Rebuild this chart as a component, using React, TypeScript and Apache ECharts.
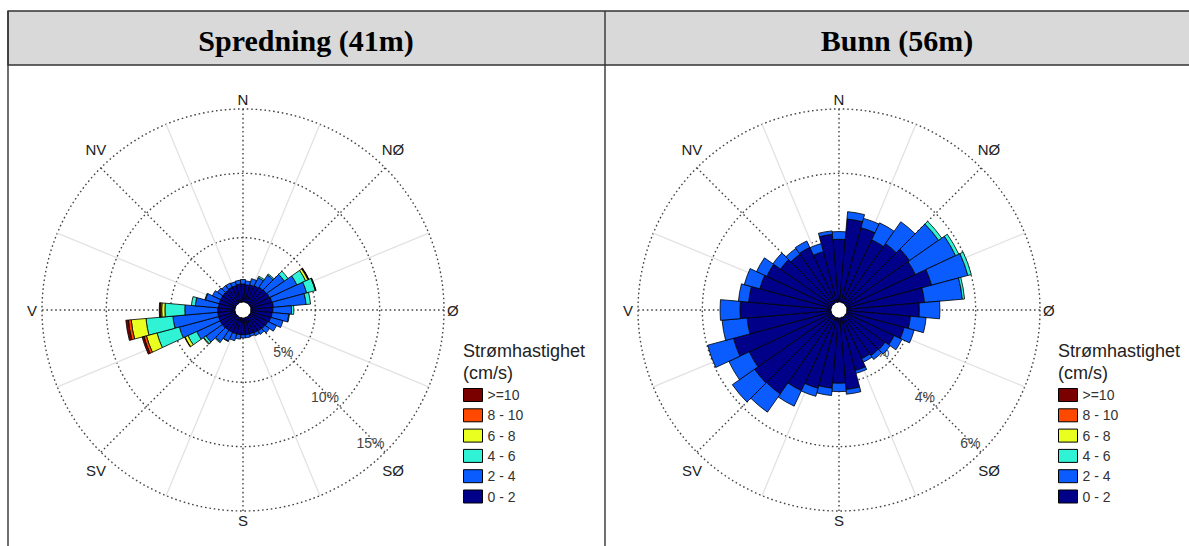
import React, { useEffect, useRef } from 'react';
import * as echarts from 'echarts';

const directions = ['0','10','20','30','40','50','60','70','80','90','100','110','120','130','140','150','160','170','180','190','200','210','220','230','240','250','260','270','280','290','300','310','320','330','340','350'];
const compassNames = ['N', 'NØ', 'Ø', 'SØ', 'S', 'SV', 'V', 'NV'];
const speedBins = ['0 - 2', '2 - 4', '4 - 6', '6 - 8', '8 - 10', '>=10'];
const legendOrder = ['>=10', '8 - 10', '6 - 8', '4 - 6', '2 - 4', '0 - 2'];
const binColors = ['#000088', '#0a5cff', '#30f2d4', '#e8ff20', '#ff4800', '#7a0000'];

// Spredning (41m) — percent of time per direction & speed bin
const left0_2 = [1.4,1.35,1.4,1.45,1.55,1.6,1.65,1.7,1.75,1.7,1.65,1.6,1.5,1.45,1.4,1.35,1.3,1.3,1.3,1.3,1.3,1.3,1.3,1.35,1.35,1.35,1.35,1.35,1.3,1.3,1.3,1.3,1.3,1.35,1.35,1.4];
const left2_4 = [0.35,0.3,0.5,0.7,1.15,1.7,2.35,2.8,2.55,1.45,1.3,1.0,0.75,0.45,0.3,0.25,0.2,0.25,0.25,0.35,0.55,0.75,1.1,1.55,2.0,3.15,3.5,2.55,1.8,1.1,0.7,0.5,0.4,0.35,0.3,0.3];
const left4_6 = [0,0,0,0.12,0.1,0.35,0.75,0.7,0.35,0.18,0.05,0,0,0,0,0,0,0,0,0,0,0.03,0.08,0.2,0.75,1.8,2.1,1.55,0.3,0.05,0,0,0,0,0,0];
const left6_8 = [0,0,0,0,0,0,0.2,0.03,0,0,0,0,0,0,0,0,0,0,0,0,0,0,0,0.05,0.25,0.85,1.15,0.25,0,0,0,0,0,0,0,0];
const left8_10 = [0,0,0,0,0,0,0.05,0,0,0,0,0,0,0,0,0,0,0,0,0,0,0,0,0,0.04,0.2,0.22,0.12,0,0,0,0,0,0,0,0];
const left10 = [0,0,0,0,0,0,0.03,0.03,0,0,0,0,0,0,0,0,0,0,0,0,0,0,0,0,0,0.15,0.2,0.07,0,0,0,0,0,0,0,0];

// Bunn (56m)
const right0_2 = [1.95,2.59,2.4,2.16,2.27,2.43,2.37,2.73,2.42,2.25,1.98,1.85,1.64,1.5,1.48,1.42,1.7,2.23,2.03,2.19,2.27,2.52,2.94,2.96,2.83,3.15,2.62,2.83,2.57,2.3,2.23,1.97,1.87,1.9,1.63,2.11];
const right2_4 = [0.24,0.23,0.3,0.58,0.83,1.1,1.38,1.17,1.18,0.64,0.49,0.32,0.27,0.19,0.15,0.12,0.09,0.15,0.26,0.23,0.26,0.53,0.69,0.84,0.7,0.83,0.78,0.62,0.32,0.5,0.35,0.29,0.22,0.22,0.26,0.11];
const right4_6 = [0,0,0,0,0,0.12,0.11,0.11,0.07,0,0,0,0,0,0,0,0,0,0,0,0,0,0,0,0,0,0,0,0,0,0,0,0,0,0,0];
const right6_8 = [0,0,0,0,0,0,0,0,0,0,0,0,0,0,0,0,0,0,0,0,0,0,0,0,0,0,0,0,0,0,0,0,0,0,0,0];
const right8_10 = [0,0,0,0,0,0,0,0,0,0,0,0,0,0,0,0,0,0,0,0,0,0,0,0,0,0,0,0,0,0,0,0,0,0,0,0];
const right10 = [0,0,0,0,0,0,0,0,0,0,0,0,0,0,0,0,0,0,0,0,0,0,0,0,0,0,0,0,0,0,0,0,0,0,0,0];

const leftMax = 15;
const leftStep = 5;
const rightMax = 6;
const rightStep = 2;

const leftSeries = [left0_2, left2_4, left4_6, left6_8, left8_10, left10];
const rightSeries = [right0_2, right2_4, right4_6, right6_8, right8_10, right10];

const SANS = "'Liberation Sans', Arial, sans-serif";
const SERIF = "'Liberation Serif', 'Times New Roman', serif";
const DOT = [1.6, 2.8];

const baseText = { fontSize: 15, color: '#222', fontFamily: SANS };
const compassRich = {
  c: { ...baseText },
  h: { ...baseText, padding: [0, 3, 0, 1] },
  e: { ...baseText, width: 13, align: 'center', lineHeight: 33 },
  w: { ...baseText, width: 7, align: 'center', lineHeight: 33 },
};

function compassLabel(v: number) {
  const idx = Math.round((135 + v) / 45) % 8;
  const name = compassNames[idx];
  const key = idx === 1 || idx === 3 ? 'e' : idx === 5 || idx === 7 ? 'w' : idx === 2 || idx === 6 ? 'h' : 'c';
  return `{${key}|${name}}`;
}

function buildChart(center: number[], max: number, step: number, stackName: string, values: number[][], polarBase: number) {
  const polars = [0, 1, 2].map(() => ({ center, radius: [8, 201] }));
  const angleAxes = [
    {
      polarIndex: polarBase,
      type: 'value', min: 0, max: 360, interval: 45, startAngle: -45, clockwise: true,
      axisLine: { show: false }, axisTick: { show: false },
      axisLabel: {
        show: true, margin: 2, color: '#222', fontSize: 15, fontFamily: SANS,
        formatter: compassLabel, rich: compassRich,
      },
      splitLine: { show: true, lineStyle: { color: '#444', width: 1.4, type: DOT } },
    },
    {
      polarIndex: polarBase + 1,
      type: 'value', min: 0, max: 360, interval: 45, startAngle: 67.5, clockwise: true,
      axisLine: { show: false }, axisTick: { show: false }, axisLabel: { show: false },
      splitLine: { show: true, lineStyle: { color: '#e2e2e2', width: 1.3, type: 'solid' } },
    },
    {
      polarIndex: polarBase + 2,
      type: 'category', data: directions, startAngle: 95, clockwise: true,
      axisLine: { show: false }, axisTick: { show: false }, axisLabel: { show: false },
      splitLine: { show: false },
    },
  ];
  const radiusAxes = [
    {
      polarIndex: polarBase, type: 'value', min: 0, max, interval: step,
      axisLine: { show: false }, axisTick: { show: false },
      axisLabel: {
        show: true, margin: 2, color: '#444', fontSize: 14, fontFamily: SANS,
        align: 'right', verticalAlign: 'bottom', padding: [0, 2, 1, 0],
        formatter: (v: number) => (v === 0 ? '' : v + '%'),
      },
      splitLine: { show: true, lineStyle: { color: '#444', width: 1.4, type: DOT } },
    },
    {
      polarIndex: polarBase + 1, type: 'value', min: 0, max, interval: step,
      axisLine: { show: false }, axisTick: { show: false }, axisLabel: { show: false }, splitLine: { show: false },
    },
    {
      polarIndex: polarBase + 2, type: 'value', min: 0, max, interval: step,
      axisLine: { show: false }, axisTick: { show: false }, axisLabel: { show: false }, splitLine: { show: false },
    },
  ];
  const series = speedBins.map((name, i) => ({
    type: 'bar', name, coordinateSystem: 'polar', polarIndex: polarBase + 2,
    stack: stackName, barCategoryGap: '0%', silent: true,
    data: values[i].map((v) => (v > 0 ? v : null)),
    itemStyle: { color: binColors[i], borderColor: '#000', borderWidth: 0.8 },
  }));
  return { polars, angleAxes, radiusAxes, series };
}

export default function App() {
  const ref = useRef<HTMLDivElement>(null);
  useEffect(() => {
    if (!ref.current) return;
    const chart = echarts.init(ref.current, undefined, { renderer: 'svg' });
    const L = buildChart([243, 310], leftMax, leftStep, 'left', leftSeries, 0);
    const R = buildChart([839, 310], rightMax, rightStep, 'right', rightSeries, 3);
    const legendCommon = {
      orient: 'vertical', data: legendOrder, icon: 'rect', itemWidth: 19, itemHeight: 13, itemGap: 6.3,
      padding: 0, selectedMode: false, textStyle: { fontSize: 14, color: '#333', fontFamily: SANS },
      itemStyle: { borderColor: '#000', borderWidth: 1 },
    };
    chart.setOption({
      animation: false,
      backgroundColor: '#fff',
      polar: [...L.polars, ...R.polars],
      angleAxis: [...L.angleAxes, ...R.angleAxes],
      radiusAxis: [...L.radiusAxes, ...R.radiusAxes],
      legend: [
        { ...legendCommon, left: 463, top: 388 },
        { ...legendCommon, left: 1058, top: 388 },
      ],
      graphic: [
        { type: 'rect', shape: { x: 8, y: 11, width: 1200, height: 54 }, style: { fill: '#d9d9d9', stroke: '#333', lineWidth: 1.4 } },
        { type: 'line', shape: { x1: 8, y1: 11, x2: 8, y2: 560 }, style: { stroke: '#333', lineWidth: 1.4 } },
        { type: 'line', shape: { x1: 605, y1: 11, x2: 605, y2: 560 }, style: { stroke: '#333', lineWidth: 1.4 } },
        { type: 'text', x: 306, y: 40, style: { text: 'Spredning (41m)', font: `bold 30px ${SERIF}`, fill: '#000', textAlign: 'center', textVerticalAlign: 'middle' } },
        { type: 'text', x: 897, y: 40, style: { text: 'Bunn (56m)', font: `bold 30px ${SERIF}`, fill: '#000', textAlign: 'center', textVerticalAlign: 'middle' } },
        { type: 'text', x: 463, y: 351, style: { text: 'Strømhastighet', font: `18px ${SANS}`, fill: '#222', textVerticalAlign: 'middle' } },
        { type: 'text', x: 463, y: 373, style: { text: '(cm/s)', font: `18px ${SANS}`, fill: '#222', textVerticalAlign: 'middle' } },
        { type: 'text', x: 1058, y: 351, style: { text: 'Strømhastighet', font: `18px ${SANS}`, fill: '#222', textVerticalAlign: 'middle' } },
        { type: 'text', x: 1058, y: 373, style: { text: '(cm/s)', font: `18px ${SANS}`, fill: '#222', textVerticalAlign: 'middle' } },
      ],
      series: [...L.series, ...R.series],
    });
    return () => chart.dispose();
  }, []);
  return <div ref={ref} style={{ position: 'absolute', left: 0, top: 0, width: 1189, height: 546 }} />;
}
